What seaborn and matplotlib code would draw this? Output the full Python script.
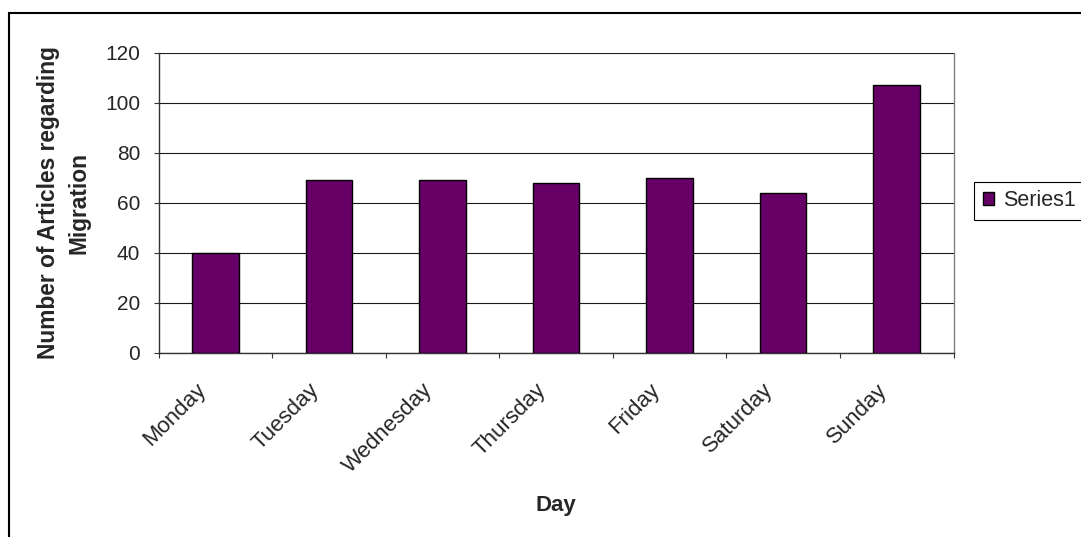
import matplotlib
matplotlib.use("Agg")
import matplotlib.pyplot as plt
import matplotlib.patches as mpatches
import matplotlib.transforms as mtransforms
from matplotlib.ticker import FixedLocator, MultipleLocator
import pandas as pd
import seaborn as sns

# Articles about migration published on each weekday
days = ["Monday", "Tuesday", "Wednesday", "Thursday", "Friday", "Saturday", "Sunday"]
articles = [40, 69, 69, 68, 70, 64, 107]
series_name = "Series1"
y_ticks = [0, 20, 40, 60, 80, 100, 120]

df = pd.DataFrame({"Day": days, "Articles": articles})

sns.set_style("white")
plt.rcParams["font.family"] = ["Liberation Sans", "DejaVu Sans"]

W, H = 1081, 537
fig = plt.figure(figsize=(W / 100, H / 100), dpi=100)
fig.patch.set_facecolor("white")

TICK_FS = 15
XTICK_FS = 16
LABEL_FS = 16

# plot area in pixel terms
left, right, top, bottom = 158.5, 953.5, 52.7, 352.7
ax = fig.add_axes([left / W, 1 - bottom / H, (right - left) / W, (bottom - top) / H])

sns.barplot(data=df, x="Day", y="Articles", color="#660066", saturation=1,
            edgecolor="black", linewidth=1.0, width=0.41, ax=ax, zorder=3)

ax.set_ylim(0, 120)
ax.set_xlim(-0.5, len(days) - 0.5)
ax.yaxis.set_major_locator(FixedLocator(y_ticks))
ax.set_yticklabels([str(v) for v in y_ticks], fontsize=TICK_FS)

# horizontal gridlines
ax.grid(axis="y", color="#1a1a1a", linewidth=0.8, zorder=0)
ax.grid(axis="x", visible=False)
ax.set_axisbelow(True)

# spines
for s in ["left", "bottom"]:
    ax.spines[s].set_color("#333333")
    ax.spines[s].set_linewidth(1.0)
ax.spines["right"].set_color("#808080")
ax.spines["right"].set_linewidth(1.0)
ax.spines["top"].set_visible(False)

# ticks: y outward, x at category boundaries
ax.tick_params(axis="y", direction="out", length=3.6, width=0.8, color="#333333",
               pad=9.5, left=True)
ax.xaxis.set_minor_locator(MultipleLocator(1, offset=0.5))
ax.tick_params(axis="x", which="major", length=0, pad=24.5)
ax.tick_params(axis="x", which="minor", direction="out", length=3.6, width=0.8,
               color="#333333", bottom=True)
ax.set_xticks(range(len(days)))
ax.set_xticklabels(days, rotation=45, ha="right", va="center",
                   rotation_mode="anchor", fontsize=XTICK_FS)
shift = mtransforms.ScaledTranslation(-0.13, 0, fig.dpi_scale_trans)
for lbl in ax.get_xticklabels():
    lbl.set_transform(lbl.get_transform() + shift)

ax.set_xlabel("Day", fontsize=LABEL_FS, fontweight="bold", va="center")
ax.xaxis.set_label_coords(0.5, -0.508)
ax.set_ylabel("Number of Articles regarding\nMigration", fontsize=16.4,
              fontweight="bold", va="center", ha="center", linespacing=1.4)
ax.yaxis.set_label_coords(-0.1195, 0.5)

# legend
handle = ax.patches[0]
leg = fig.legend([handle], [series_name], loc="center left",
                 bbox_to_anchor=(974 / W, 1 - 201 / H), borderaxespad=0,
                 fontsize=15.5, frameon=True, fancybox=False, framealpha=1,
                 edgecolor="black", handlelength=0.55, handleheight=0.55,
                 handletextpad=0.4, borderpad=0.4)
leg.get_frame().set_linewidth(0.8)

# outer chart border
border = mpatches.Rectangle((9 / W, -0.5), 2.0, 1 - 13 / H + 0.5,
                            transform=fig.transFigure, fill=False,
                            edgecolor="black", linewidth=1.5)
fig.patches.append(border)

fig.savefig("out.png", dpi=100, facecolor="white")
